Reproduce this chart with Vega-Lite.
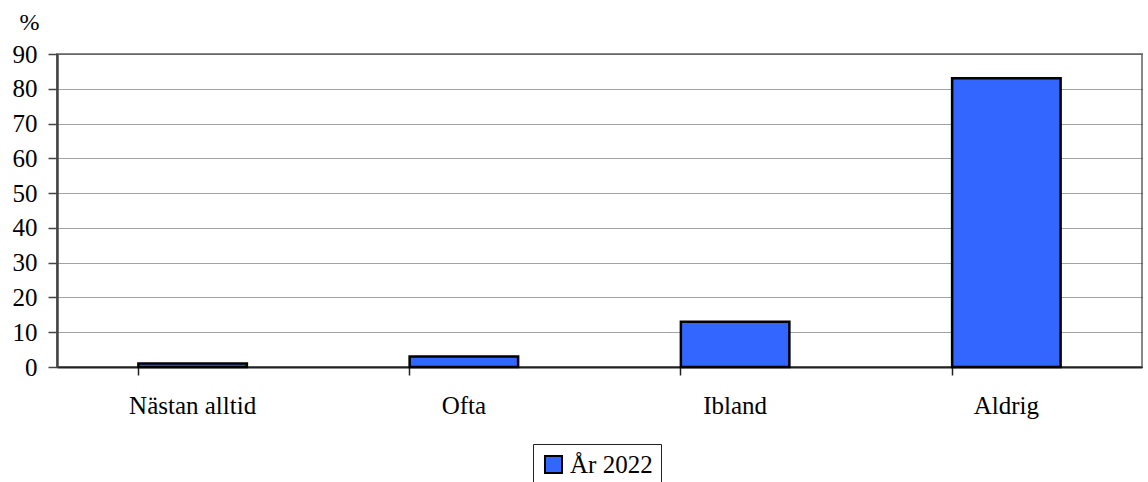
{
  "$schema": "https://vega.github.io/schema/vega-lite/v6.json",
  "autosize": "none",
  "width": 1085,
  "height": 313,
  "padding": {"left": 57, "top": 54, "right": 6, "bottom": 115},
  "background": "white",
  "config": {
    "font": "Liberation Serif",
    "view": {"stroke": "#888888", "strokeWidth": 2}
  },
  "data": {
    "values": [
      {"kategori": "Nästan alltid", "serie": "År 2022", "procent": 1},
      {"kategori": "Ofta", "serie": "År 2022", "procent": 3},
      {"kategori": "Ibland", "serie": "År 2022", "procent": 13},
      {"kategori": "Aldrig", "serie": "År 2022", "procent": 83}
    ]
  },
  "mark": {"type": "bar", "stroke": "black", "strokeWidth": 2.5},
  "encoding": {
    "x": {
      "field": "kategori",
      "type": "nominal",
      "sort": null,
      "scale": {"paddingInner": 0.6, "paddingOuter": 0.3},
      "axis": {
        "title": null,
        "labelAngle": 0,
        "labelFont": "Liberation Serif",
        "labelFontSize": 25,
        "labelColor": "black",
        "labelPadding": 18,
        "bandPosition": 0,
        "domainColor": "#222222",
        "domainWidth": 2,
        "tickColor": "#222222",
        "tickWidth": 1.5,
        "tickSize": 8,
        "grid": false
      }
    },
    "y": {
      "field": "procent",
      "type": "quantitative",
      "scale": {"domain": [0, 90], "nice": false},
      "axis": {
        "values": [0, 10, 20, 30, 40, 50, 60, 70, 80, 90],
        "title": "%",
        "titleAngle": 0,
        "titleFont": "Liberation Serif",
        "titleFontSize": 24,
        "titleFontWeight": "normal",
        "titleColor": "black",
        "titleAlign": "center",
        "titleBaseline": "middle",
        "titleX": -28,
        "titleY": -32,
        "labelFont": "Liberation Serif",
        "labelFontSize": 25,
        "labelColor": "black",
        "labelPadding": 11,
        "domainColor": "#444444",
        "domainWidth": 2.5,
        "tickColor": "#444444",
        "tickWidth": 1.5,
        "tickSize": 9,
        "grid": true,
        "gridColor": "#444444",
        "gridDash": [1, 1],
        "gridWidth": 1.2
      }
    },
    "fill": {
      "field": "serie",
      "type": "nominal",
      "scale": {"range": ["#3366FF"]},
      "legend": {
        "title": null,
        "orient": "none",
        "legendX": 476,
        "legendY": 390,
        "strokeColor": "#222222",
        "padding": 8,
        "symbolType": "square",
        "symbolSize": 290,
        "symbolStrokeColor": "black",
        "symbolStrokeWidth": 2,
        "symbolFillColor": "#3366FF",
        "labelFont": "Liberation Serif",
        "labelFontSize": 25,
        "labelColor": "black",
        "labelOffset": 4
      }
    }
  }
}
